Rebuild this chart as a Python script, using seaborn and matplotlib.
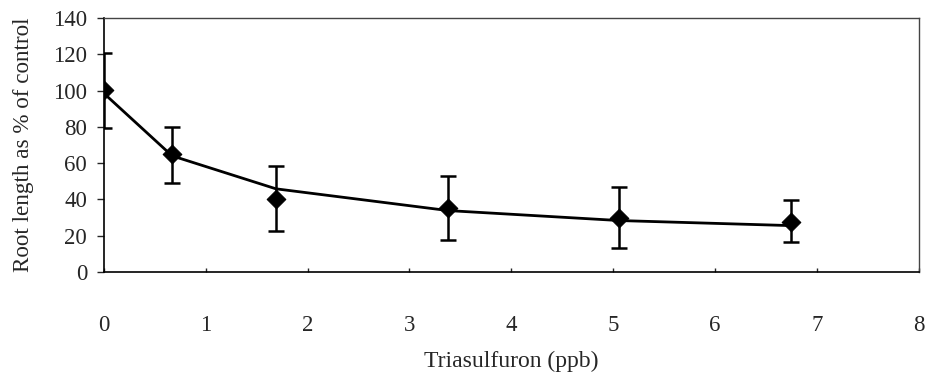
import matplotlib
matplotlib.use("Agg")
import matplotlib.pyplot as plt
import seaborn as sns
import pandas as pd

# Data
dose_ppb = [0.0, 0.67, 1.69, 3.38, 5.06, 6.75]
root_mean = [100.3, 64.9, 40.2, 35.0, 29.9, 27.7]
err_upper = [120.9, 80.1, 58.6, 52.9, 46.9, 39.5]
err_lower = [79.2, 49.0, 22.8, 17.6, 13.1, 16.2]
fit_line = [98.5, 64.0, 45.8, 33.8, 28.3, 25.5]
x_ticks = [0, 1, 2, 3, 4, 5, 6, 7, 8]
y_ticks = [0, 20, 40, 60, 80, 100, 120, 140]

sns.set_style("ticks")
plt.rcParams['font.family'] = ['Liberation Serif', 'DejaVu Serif']

df = pd.DataFrame({"dose": dose_ppb, "mean": root_mean, "fit": fit_line,
                   "up": err_upper, "lo": err_lower})

fig = plt.figure(figsize=(9.27, 3.76), dpi=100)
ax = fig.add_axes([0.112, 0.277, 0.879, 0.675])

sns.lineplot(data=df, x="dose", y="fit", ax=ax, color="black", linewidth=2, zorder=2)
ax.errorbar(df["dose"], df["mean"],
            yerr=[df["mean"] - df["lo"], df["up"] - df["mean"]],
            fmt="none", ecolor="black", elinewidth=1.8, capsize=6, capthick=1.8, zorder=3)
sns.scatterplot(data=df, x="dose", y="mean", ax=ax, marker="D", s=90,
                color="black", edgecolor="black", zorder=4)

ax.set_xlim(0, 8)
ax.set_ylim(0, 140)
ax.set_xticks(x_ticks)
ax.set_yticks(y_ticks)
ax.tick_params(axis="x", direction="in", length=3, width=1, labelsize=16.5, pad=31)
ax.tick_params(axis="y", direction="out", length=5, width=1, labelsize=16.5, pad=7)

for s in ["left", "bottom"]:
    ax.spines[s].set_color("black")
    ax.spines[s].set_linewidth(1.2)
for s in ["top", "right"]:
    ax.spines[s].set_visible(True)
    ax.spines[s].set_color("#444444")
    ax.spines[s].set_linewidth(1.0)

ax.set_xlabel("Triasulfuron (ppb)", fontsize=17, labelpad=11)
ax.set_ylabel("Root length as % of control", fontsize=16.7, labelpad=14)

fig.savefig("out.png", dpi=100, facecolor="white")
